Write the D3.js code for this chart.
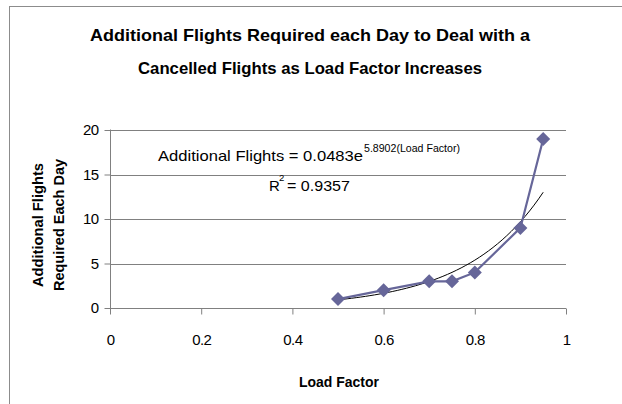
<!DOCTYPE html>
<html>
<head>
<meta charset="utf-8">
<script src="https://cdn.jsdelivr.net/npm/d3@7"></script>
<style>
  html, body { margin: 0; padding: 0; background: #fff; }
  svg { display: block; font-family: "Liberation Sans", Arial, sans-serif; }
</style>
</head>
<body>
<svg id="chart" width="622" height="404"></svg>
<script>
// ---- data ----
const loadFactor = [0.5, 0.6, 0.7, 0.75, 0.8, 0.9, 0.95];
const additionalFlights = [1, 2, 3, 3, 4, 9, 19];
const xTicks = [0, 0.2, 0.4, 0.6, 0.8, 1];
const yTicks = [0, 5, 10, 15, 20];
const trendCoef = [0.0483, 5.8902];   // a, b of y = a*e^(b x) as printed on chart
const trendRange = [0.5, 0.95];
const titleLines = ["Additional Flights Required each Day to Deal with a", "Cancelled Flights as Load Factor Increases"];
const yLabelLines = ["Additional Flights", "Required Each Day"];
const xLabel = "Load Factor";
const rSquared = "0.9357";

const svg = d3.select("#chart");
const plot = { left: 110, right: 566, top: 130, bottom: 308 };

const x = d3.scaleLinear().domain([0, 1]).range([plot.left, plot.right]);
const y = d3.scaleLinear().domain([0, 20]).range([plot.bottom, plot.top]);

// outer chart border
svg.append("rect").attr("x", 9.5).attr("y", 6.5).attr("width", 640).attr("height", 420)
  .attr("fill", "none").attr("stroke", "#8c8c8c").attr("stroke-width", 1);

// title
const titleWidths = [440, 344];
titleLines.forEach((t, i) => {
  svg.append("text").attr("x", 310).attr("y", 41 + i * 33)
    .attr("text-anchor", "middle").attr("font-weight", "bold").attr("font-size", 16.5)
    .attr("textLength", titleWidths[i]).attr("lengthAdjust", "spacingAndGlyphs")
    .attr("fill", "#000").text(t);
});

// gridlines
svg.append("g").selectAll("line").data(yTicks.filter(d => d > 0)).join("line")
  .attr("x1", plot.left).attr("x2", plot.right)
  .attr("y1", d => Math.round(y(d)) + 0.5).attr("y2", d => Math.round(y(d)) + 0.5)
  .attr("stroke", "#808080").attr("stroke-width", 1);

// axes
const xAxis = svg.append("g").attr("transform", `translate(0,${plot.bottom + 0.5})`)
  .call(d3.axisBottom(x).tickValues(xTicks).tickSize(6).tickPadding(16)
    .tickFormat(d => d === 0 ? "0" : d === 1 ? "1" : d3.format(".1f")(d)));
const yAxis = svg.append("g").attr("transform", `translate(${plot.left + 0.5},0)`)
  .call(d3.axisLeft(y).tickValues(yTicks).tickSize(6).tickPadding(6));
[xAxis, yAxis].forEach(g => {
  g.select(".domain").attr("stroke", "#808080");
  g.selectAll(".tick line").attr("stroke", "#808080");
  g.selectAll(".tick text").attr("font-size", 15).attr("fill", "#000")
    .attr("font-family", "'Liberation Sans', Arial, sans-serif").attr("letter-spacing", -0.6);
});
yAxis.select(".domain").attr("d", `M0,${plot.bottom}V${plot.top - 0.5}`);
xAxis.select(".domain").attr("d", `M${plot.left},0H${plot.right}`);
xAxis.selectAll(".tick text").attr("dy", "0.95em");

// trendline (from printed equation)
const trendXs = d3.range(trendRange[0], trendRange[1] + 1e-9, 0.01);
svg.append("path")
  .datum(trendXs)
  .attr("fill", "none").attr("stroke", "#000").attr("stroke-width", 1)
  .attr("d", d3.line().x(d => x(d)).y(d => y(trendCoef[0] * Math.exp(trendCoef[1] * d))));

// series line
const pts = loadFactor.map((lf, i) => [lf, additionalFlights[i]]);
svg.append("path").datum(pts)
  .attr("fill", "none").attr("stroke", "#666699").attr("stroke-width", 2.2)
  .attr("d", d3.line().x(d => x(d[0])).y(d => y(d[1])));

// diamonds
svg.append("g").selectAll("path").data(pts).join("path")
  .attr("transform", d => `translate(${x(d[0])},${y(d[1])})`)
  .attr("d", "M0,-7L7,0L0,7L-7,0Z")
  .attr("fill", "#666699");

// equation labels
svg.append("text").attr("x", 158).attr("y", 161).attr("font-size", 15)
  .attr("fill", "#000").attr("textLength", 205).attr("lengthAdjust", "spacingAndGlyphs")
  .text(`Additional Flights = ${trendCoef[0]}e`);
svg.append("text").attr("x", 364).attr("y", 152).attr("font-size", 10.5)
  .attr("textLength", 96).attr("lengthAdjust", "spacingAndGlyphs")
  .attr("fill", "#000").text(`${trendCoef[1]}(Load Factor)`);
svg.append("text").attr("x", 269).attr("y", 191).attr("font-size", 15)
  .attr("fill", "#000").text("R");
svg.append("text").attr("x", 279).attr("y", 181).attr("font-size", 9.5)
  .attr("fill", "#000").text("2");
svg.append("text").attr("x", 287).attr("y", 191).attr("font-size", 15)
  .attr("fill", "#000").attr("textLength", 63).attr("lengthAdjust", "spacingAndGlyphs")
  .text(`= ${rSquared}`);

// y label
yLabelLines.forEach((t, i) => {
  svg.append("text")
    .attr("transform", `translate(${43 + i * 21},${225}) rotate(-90)`)
    .attr("text-anchor", "middle").attr("font-weight", "bold").attr("font-size", 14)
    .attr("textLength", i === 0 ? 124 : 132).attr("lengthAdjust", "spacingAndGlyphs")
    .attr("fill", "#000").text(t);
});

// x label
svg.append("text").attr("x", 339).attr("y", 387).attr("text-anchor", "middle")
  .attr("font-weight", "bold").attr("font-size", 14)
  .attr("textLength", 80).attr("lengthAdjust", "spacingAndGlyphs")
  .attr("fill", "#000").text(xLabel);
</script>
</body>
</html>
